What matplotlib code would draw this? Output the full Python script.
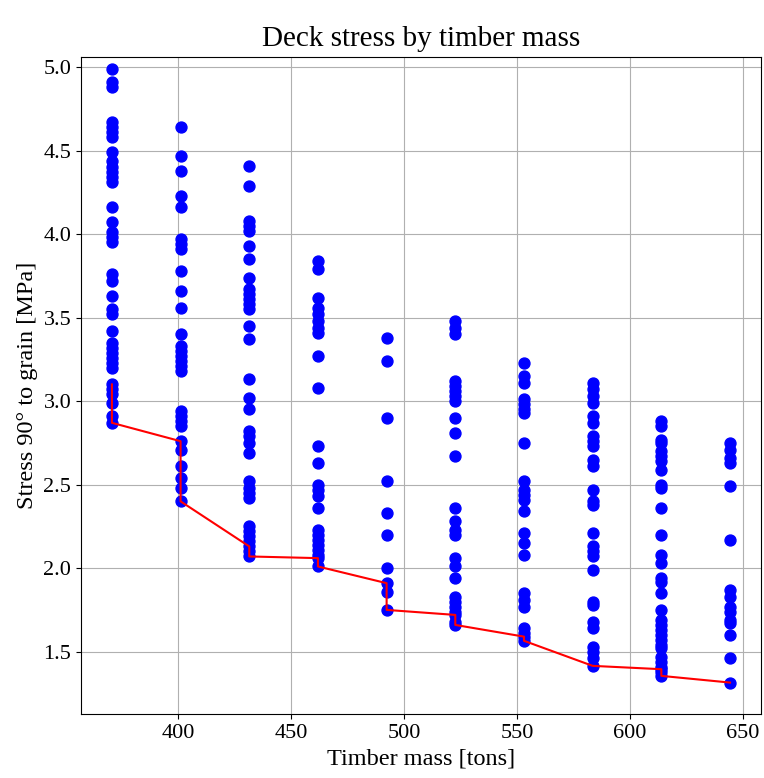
import matplotlib
matplotlib.use("Agg")
import matplotlib.pyplot as plt

plt.rcParams['font.family'] = ['Liberation Serif', 'DejaVu Serif']

# Timber mass of each deck design group [tons]
masses = [370.6, 401.0, 431.4, 461.8, 492.2, 522.6, 553.0, 583.4, 613.8, 644.2]

# Stress 90 deg to grain for every evaluated design in each mass group [MPa]
stress_370 = [4.99, 4.91, 4.88, 4.67, 4.64, 4.61, 4.58, 4.49, 4.44, 4.40, 4.37, 4.34,
              4.31, 4.16, 4.07, 4.01, 3.98, 3.95, 3.76, 3.72, 3.63, 3.55, 3.52, 3.42,
              3.35, 3.32, 3.29, 3.26, 3.23, 3.20, 3.10, 3.07, 3.04, 2.99, 2.91, 2.87]
stress_401 = [4.64, 4.47, 4.38, 4.23, 4.16, 3.97, 3.94, 3.91, 3.78, 3.66, 3.56, 3.40,
              3.33, 3.30, 3.27, 3.24, 3.21, 3.18, 2.94, 2.91, 2.88, 2.85, 2.76, 2.71,
              2.61, 2.54, 2.48, 2.40]
stress_431 = [4.41, 4.29, 4.08, 4.05, 4.02, 3.93, 3.85, 3.74, 3.67, 3.64, 3.61, 3.58,
              3.55, 3.45, 3.37, 3.13, 3.02, 2.95, 2.82, 2.79, 2.75, 2.69, 2.52, 2.48,
              2.45, 2.42, 2.25, 2.22, 2.19, 2.16, 2.13, 2.10, 2.07]
stress_462 = [3.84, 3.79, 3.62, 3.56, 3.52, 3.48, 3.44, 3.41, 3.27, 3.08, 2.73, 2.63,
              2.50, 2.47, 2.43, 2.36, 2.23, 2.20, 2.17, 2.14, 2.11, 2.08, 2.06, 2.01]
stress_492 = [3.38, 3.24, 2.90, 2.52, 2.33, 2.20, 2.00, 1.91, 1.86, 1.75]
stress_523 = [3.48, 3.44, 3.40, 3.12, 3.09, 3.06, 3.03, 3.00, 2.90, 2.81, 2.67, 2.36,
              2.28, 2.23, 2.20, 2.06, 2.01, 1.94, 1.83, 1.80, 1.77, 1.74, 1.72, 1.68,
              1.66]
stress_553 = [3.23, 3.15, 3.11, 3.01, 2.98, 2.95, 2.93, 2.75, 2.52, 2.47, 2.44, 2.41,
              2.34, 2.21, 2.15, 2.08, 1.85, 1.81, 1.77, 1.64, 1.61, 1.59, 1.565]
stress_583 = [3.11, 3.07, 3.03, 2.99, 2.91, 2.87, 2.79, 2.76, 2.73, 2.65, 2.61, 2.47,
              2.40, 2.38, 2.21, 2.13, 2.10, 2.07, 1.99, 1.80, 1.78, 1.68, 1.64, 1.53,
              1.50, 1.46, 1.415]
stress_614 = [2.88, 2.85, 2.77, 2.75, 2.70, 2.67, 2.64, 2.59, 2.50, 2.48, 2.36, 2.20,
              2.08, 2.03, 1.94, 1.92, 1.85, 1.75, 1.69, 1.66, 1.63, 1.60, 1.57, 1.54,
              1.52, 1.47, 1.44, 1.41, 1.395, 1.38, 1.355]
stress_644 = [2.75, 2.71, 2.66, 2.63, 2.49, 2.17, 1.87, 1.83, 1.77, 1.735, 1.69, 1.67,
              1.60, 1.46, 1.315]

stress_groups = [stress_370, stress_401, stress_431, stress_462, stress_492,
                 stress_523, stress_553, stress_583, stress_614, stress_644]

# Non-dominated designs (lightest mass for a given stress)
front_mass = [370.6, 370.6, 401.0, 401.0, 431.4, 431.4, 461.8, 461.8, 492.2, 492.2,
              522.6, 522.6, 553.0, 553.0, 583.4, 613.8, 613.8, 644.2]
front_stress = [3.10, 2.87, 2.76, 2.40, 2.13, 2.07, 2.06, 2.01, 1.91, 1.75,
                1.72, 1.66, 1.59, 1.565, 1.415, 1.395, 1.355, 1.315]

fig = plt.figure(figsize=(7.64, 7.78), dpi=100)
ax = fig.add_axes([0.106, 0.0823, 0.89, 0.8444])

for m, group in zip(masses, stress_groups):
    ax.scatter([m] * len(group), group, s=62, color="blue", zorder=2)

ax.plot(front_mass, front_stress, color="red", linewidth=1.5, zorder=3)

ax.set_ylim(1.127, 5.06)
ax.grid(True, color="#b0b0b0", linewidth=0.8)
ax.set_axisbelow(True)

ax.set_title("Deck stress by timber mass", fontsize=21, pad=8)
ax.set_xlabel("Timber mass [tons]", fontsize=17.5)
ax.set_ylabel("Stress 90° to grain [MPa]", fontsize=17.5)
ax.tick_params(labelsize=16)

fig.savefig("out.png", dpi=100)
